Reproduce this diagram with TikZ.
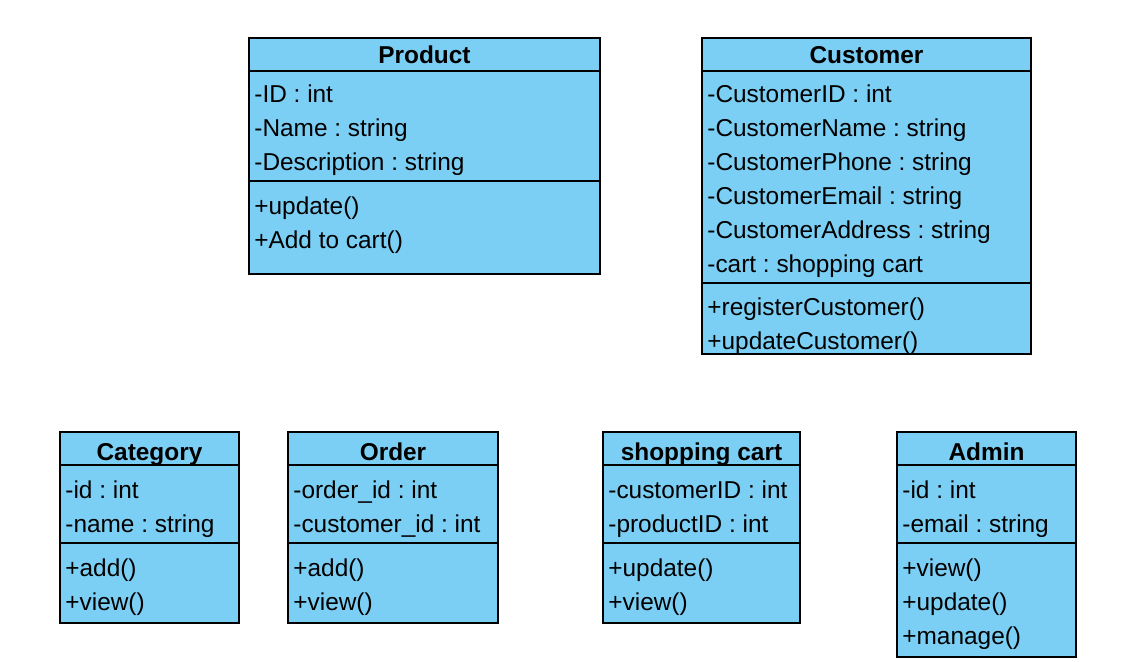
\documentclass[tikz,border=0pt]{standalone}
\usepackage{fontspec}
\setmainfont{Liberation Sans}
\frenchspacing
\definecolor{classfill}{HTML}{7BCFF4}
\begin{document}
\begin{tikzpicture}[x=0.5pt,y=-0.5pt,
  box/.style={draw=black,fill=classfill,line width=1pt},
  sep/.style={draw=black,line width=1pt},
  ttl/.style={anchor=base,inner sep=0pt,font=\fontsize{12.2}{14}\selectfont\bfseries\frenchspacing},
  txt/.style={anchor=base west,inner sep=0pt,font=\fontsize{12.2}{14}\selectfont\frenchspacing}]
\useasboundingbox (0,0) rectangle (1145,662);
% Product
\draw[box] (249,38) rectangle (600,274);
\draw[sep] (249,71) -- (600,71);
\draw[sep] (249,181) -- (600,181);
\node[ttl] (pt) at (424.5,64) {Product};
\node[txt] (p1) at (254,103) {-ID : int};
\node[txt] (p2) at (254,137) {-Name : string};
\node[txt] (p3) at (254,171) {-Description : string};
\node[txt] (p4) at (254,215) {+update()};
\node[txt] (p5) at (254,249) {+Add to cart()};
% Customer
\draw[box] (702,38) rectangle (1031,354);
\draw[sep] (702,71) -- (1031,71);
\draw[sep] (702,283) -- (1031,283);
\node[ttl] (ct) at (866.5,64) {Customer};
\node[txt] (c1) at (707,103) {-CustomerID : int};
\node[txt] (c2) at (707,137) {-CustomerName : string};
\node[txt] (c3) at (707,171) {-CustomerPhone : string};
\node[txt] (c4) at (707,205) {-CustomerEmail : string};
\node[txt] (c5) at (707,239) {-CustomerAddress : string};
\node[txt] (c6) at (707,273) {-cart : shopping cart};
\node[txt] (c7) at (707,316) {+registerCustomer()};
\node[txt] (c8) at (707,350) {+updateCustomer()};
% Category
\draw[box] (60,432) rectangle (239,623);
\draw[sep] (60,465) -- (239,465);
\draw[sep] (60,543) -- (239,543);
\node[ttl] (gt) at (149.5,460) {Category};
\node[txt] (g1) at (65,498) {-id : int};
\node[txt] (g2) at (65,532) {-name : string};
\node[txt] (g3) at (65,576) {+add()};
\node[txt] (g4) at (65,610) {+view()};
% Order
\draw[box] (288,432) rectangle (498,623);
\draw[sep] (288,465) -- (498,465);
\draw[sep] (288,543) -- (498,543);
\node[ttl] (ot) at (393,460) {Order};
\node[txt] (o1) at (293,498) {-order\_id : int};
\node[txt] (o2) at (293,532) {-customer\_id : int};
\node[txt] (o3) at (293,576) {+add()};
\node[txt] (o4) at (293,610) {+view()};
% shopping cart
\draw[box] (603,432) rectangle (800,623);
\draw[sep] (603,465) -- (800,465);
\draw[sep] (603,543) -- (800,543);
\node[ttl] (st) at (701.5,460) {shopping cart};
\node[txt] (s1) at (608,498) {-customerID : int};
\node[txt] (s2) at (608,532) {-productID : int};
\node[txt] (s3) at (608,576) {+update()};
\node[txt] (s4) at (608,610) {+view()};
% Admin
\draw[box] (897,432) rectangle (1076,657);
\draw[sep] (897,465) -- (1076,465);
\draw[sep] (897,543) -- (1076,543);
\node[ttl] (at) at (986.5,460) {Admin};
\node[txt] (a1) at (902,498) {-id : int};
\node[txt] (a2) at (902,532) {-email : string};
\node[txt] (a3) at (902,576) {+view()};
\node[txt] (a4) at (902,610) {+update()};
\node[txt] (a5) at (902,644) {+manage()};
\end{tikzpicture}
\end{document}
